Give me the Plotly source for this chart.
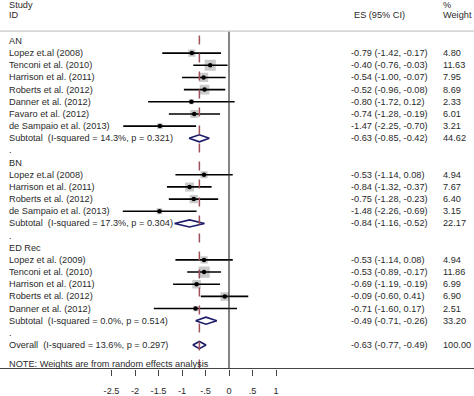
import plotly.graph_objects as go

# ---------------- data ----------------
groups = ["AN", "BN", "ED Rec"]
an_studies = ["Lopez et.al (2008)", "Tenconi et al. (2010)", "Harrison et al. (2011)",
              "Roberts et al. (2012)", "Danner et al. (2012)", "Favaro et al. (2012)",
              "de Sampaio et al. (2013)"]
an_es = [-0.79, -0.40, -0.54, -0.52, -0.80, -0.74, -1.47]
an_lo = [-1.42, -0.76, -1.00, -0.96, -1.72, -1.28, -2.25]
an_hi = [-0.17, -0.03, -0.07, -0.08, 0.12, -0.19, -0.70]
an_w = [4.80, 11.63, 7.95, 8.69, 2.33, 6.01, 3.21]

bn_studies = ["Lopez et.al (2008)", "Harrison et al. (2011)", "Roberts et al. (2012)",
              "de Sampaio et al. (2013)"]
bn_es = [-0.53, -0.84, -0.75, -1.48]
bn_lo = [-1.14, -1.32, -1.28, -2.26]
bn_hi = [0.08, -0.37, -0.23, -0.69]
bn_w = [4.94, 7.67, 6.40, 3.15]

ed_studies = ["Lopez et al. (2009)", "Tenconi et al. (2010)", "Harrison et al. (2011)",
              "Roberts et al. (2012)", "Danner et al. (2012)"]
ed_es = [-0.53, -0.53, -0.69, -0.09, -0.71]
ed_lo = [-1.14, -0.89, -1.19, -0.60, -1.60]
ed_hi = [0.08, -0.17, -0.19, 0.41, 0.17]
ed_w = [4.94, 11.86, 6.99, 6.90, 2.51]

sub_labels = ["Subtotal  (I-squared = 14.3%, p = 0.321)",
              "Subtotal  (I-squared = 17.3%, p = 0.304)",
              "Subtotal  (I-squared = 0.0%, p = 0.514)",
              "Overall  (I-squared = 13.6%, p = 0.297)"]
sub_es = [-0.63, -0.84, -0.49, -0.63]
sub_lo = [-0.85, -1.16, -0.71, -0.77]
sub_hi = [-0.42, -0.52, -0.26, -0.49]
sub_w = [44.62, 22.17, 33.20, 100.00]

overall_es = -0.63
tick_vals = [-2.5, -2, -1.5, -1, -0.5, 0, 0.5, 1]
tick_text = ["-2.5", "-2", "-1.5", "-1", "-.5", "0", ".5", "1"]
note = "NOTE: Weights are from random effects analysis"

# ---------------- build rows ----------------
rows = []  # (row, label, kind, es, lo, hi, w)
r = 0
study_sets = [(an_studies, an_es, an_lo, an_hi, an_w),
              (bn_studies, bn_es, bn_lo, bn_hi, bn_w),
              (ed_studies, ed_es, ed_lo, ed_hi, ed_w)]
for gi, (g, (names, es, lo, hi, w)) in enumerate(zip(groups, study_sets)):
    rows.append((r, g, "head", None, None, None, None)); r += 1
    for n, e, l, h, ww in zip(names, es, lo, hi, w):
        rows.append((r, n, "study", e, l, h, ww)); r += 1
    rows.append((r, sub_labels[gi], "sub", sub_es[gi], sub_lo[gi], sub_hi[gi], sub_w[gi])); r += 1
    rows.append((r, ".", "blank", None, None, None, None)); r += 1
rows.append((r, sub_labels[3], "sub", sub_es[3], sub_lo[3], sub_hi[3], sub_w[3]))
note_row = r + 1.55

def fmt(v):
    return f"{v:.2f}"

W, H = 474, 396
TXT = "#2a2a2a"
FONT = "Liberation Sans, Arial, sans-serif"
FS = 9.2

fig = go.Figure()

st = [x for x in rows if x[2] == "study"]
# weighted boxes
fig.add_trace(go.Scatter(
    x=[x[3] for x in st], y=[x[0] for x in st], mode="markers",
    marker=dict(symbol="square", size=[3.25 * x[6] ** 0.5 for x in st],
                color="#b4b4b4", line=dict(width=0)),
    hoverinfo="skip", showlegend=False))
# CI lines + point
fig.add_trace(go.Scatter(
    x=[x[3] for x in st], y=[x[0] for x in st], mode="markers",
    marker=dict(symbol="circle", size=4.5, color="black"),
    error_x=dict(type="data", symmetric=False,
                 array=[x[5] - x[3] for x in st],
                 arrayminus=[x[3] - x[4] for x in st],
                 color="black", thickness=1.6, width=0),
    hoverinfo="skip", showlegend=False))
# diamonds
dx, dy = [], []
hh = 0.29
for x in rows:
    if x[2] == "sub":
        rr, e, l, h = x[0], x[3], x[4], x[5]
        dx += [l, e, h, e, l, None]
        dy += [rr, rr - hh, rr, rr + hh, rr, None]
fig.add_trace(go.Scatter(x=dx, y=dy, mode="lines",
                         line=dict(color="#1c1c6a", width=1.6),
                         hoverinfo="skip", showlegend=False))

# text columns
ann = []
def t(x, y, text, xref="paper", yref="y"):
    ann.append(dict(x=x, y=y, xref=xref, yref=yref, text=text,
                    xanchor="left", yanchor="middle", showarrow=False,
                    font=dict(size=FS, color=TXT, family=FONT)))

for x in rows:
    rr, lab, kind = x[0], x[1], x[2]
    t(7 / W, rr, lab)
    if kind in ("study", "sub"):
        t(349 / W, rr, f"{fmt(x[3])} ({fmt(x[4])}, {fmt(x[5])})")
        t(441 / W, rr, f"{x[6]:.2f}")
t(7 / W, note_row, note)
# headers
for txt, px, py in [("Study", 7, 5), ("ID", 7, 15.5), ("ES (95% CI)", 352, 15.5),
                    ("%", 441, 5), ("Weight", 441, 15.5)]:
    t(px / W, 1 - py / H, txt, yref="paper")

# geometry: 0 at px 229, 47 px per unit
x0px, ppu = 229, 47.0
xr = [-x0px / ppu, (W - x0px) / ppu]
top_px, bot_px = 32, 378
row0_px, row_h = 42, 12.48
yr = [(bot_px - row0_px) / row_h, (top_px - row0_px) / row_h]

shapes = [
    dict(type="line", xref="x", yref="y domain", x0=overall_es, x1=overall_es,
         y0=0, y1=1, line=dict(color="#a0505a", width=1.5, dash="dash")),
    dict(type="line", xref="x", yref="y domain", x0=0, x1=0, y0=0, y1=1,
         line=dict(color="#333333", width=1.2)),
    dict(type="line", xref="paper", yref="y domain", x0=0, x1=1, y0=1, y1=1,
         line=dict(color="#c8c8c8", width=1.2)),
]

fig.update_layout(
    width=W, height=H, margin=dict(l=0, r=0, t=0, b=0),
    paper_bgcolor="white", plot_bgcolor="white",
    annotations=ann, shapes=shapes,
    xaxis=dict(range=xr, domain=[0, 1], showgrid=False, zeroline=False,
               showline=True, linecolor="#444444", linewidth=1.2,
               tickvals=tick_vals, ticktext=tick_text, ticks="outside",
               ticklen=6, tickcolor="#444444", tickwidth=1,
               ticklabelstandoff=7,
               tickfont=dict(size=FS, color=TXT, family=FONT)),
    yaxis=dict(range=yr, domain=[1 - bot_px / H, 1 - top_px / H], showgrid=False,
               zeroline=False, showticklabels=False, showline=False),
)
fig.write_html("out.html", config={"displayModeBar": False},
               post_script="document.body.style.margin='0';")
